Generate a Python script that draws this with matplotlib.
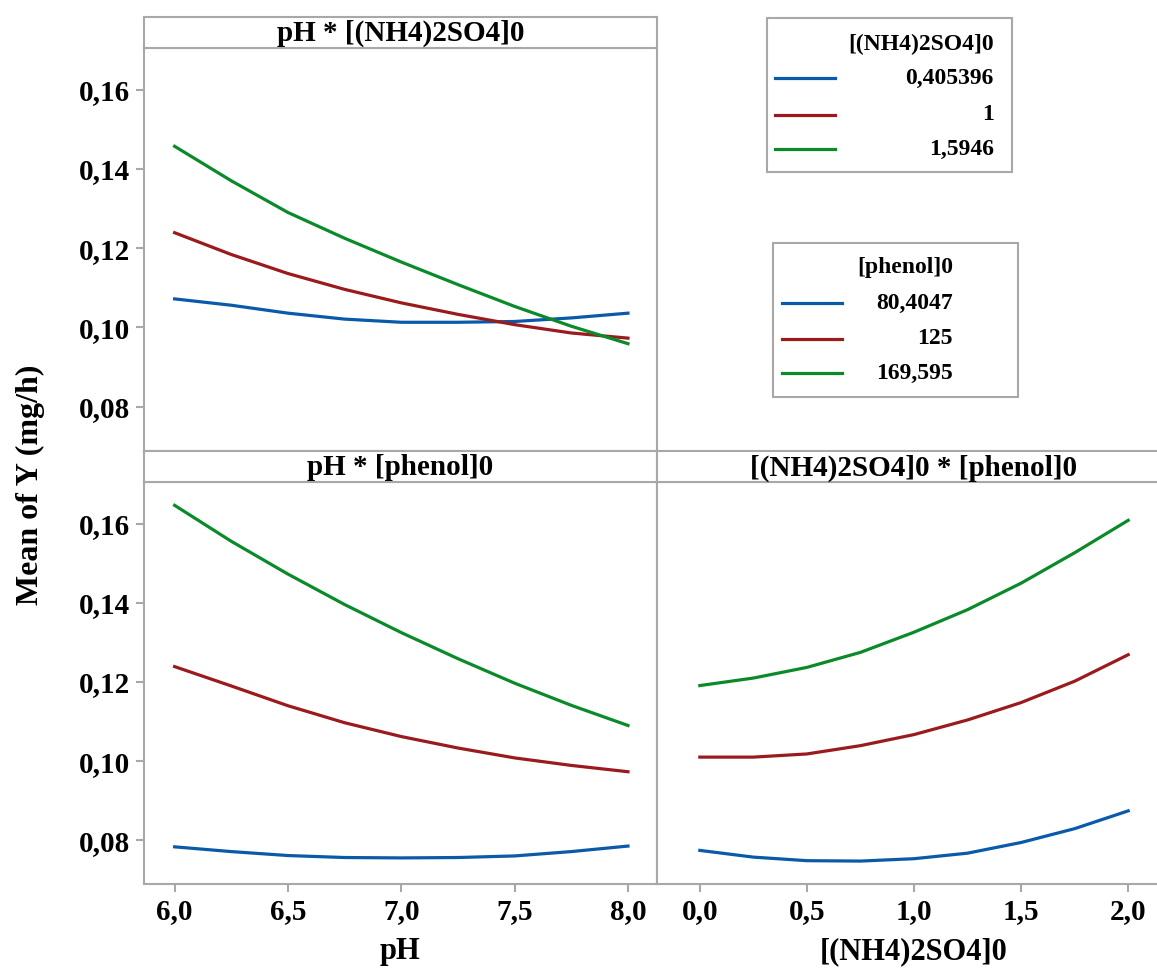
import numpy as np
import matplotlib
matplotlib.use("Agg")
import matplotlib.pyplot as plt
from matplotlib.patches import Rectangle
from matplotlib.lines import Line2D

plt.rcParams['font.family'] = ['Liberation Serif', 'DejaVu Serif']
plt.rcParams['font.weight'] = 'bold'

# x grids of the three interaction panels
ph = [6.0, 6.25, 6.5, 6.75, 7.0, 7.25, 7.5, 7.75, 8.0]
nh4 = [0.0, 0.25, 0.5, 0.75, 1.0, 1.25, 1.5, 1.75, 2.0]

# pH * [(NH4)2SO4]0  (levels 0,405396 / 1 / 1,5946)
ph_nh4_low = [0.1072, 0.1056, 0.1036, 0.1021, 0.1013, 0.1013, 0.1015, 0.1024, 0.1036]
ph_nh4_mid = [0.1239, 0.1184, 0.1136, 0.1096, 0.1062, 0.1033, 0.1007, 0.0986, 0.0973]
ph_nh4_high = [0.1457, 0.1370, 0.1290, 0.1225, 0.1165, 0.1108, 0.1053, 0.1003, 0.0959]

# pH * [phenol]0  (levels 80,4047 / 125 / 169,595)
ph_phe_low = [0.0783, 0.0771, 0.0761, 0.0756, 0.0755, 0.0756, 0.0760, 0.0771, 0.0785]
ph_phe_mid = [0.1239, 0.1190, 0.1140, 0.1097, 0.1062, 0.1033, 0.1008, 0.0989, 0.0973]
ph_phe_high = [0.1647, 0.1556, 0.1473, 0.1396, 0.1325, 0.1259, 0.1197, 0.1141, 0.1090]

# [(NH4)2SO4]0 * [phenol]0
nh4_phe_low = [0.0774, 0.0757, 0.0748, 0.0747, 0.0753, 0.0767, 0.0794, 0.0829, 0.0874]
nh4_phe_mid = [0.1010, 0.1010, 0.1018, 0.1039, 0.1067, 0.1104, 0.1148, 0.1202, 0.1269]
nh4_phe_high = [0.1191, 0.1210, 0.1237, 0.1275, 0.1326, 0.1383, 0.1450, 0.1527, 0.1609]

nh4_levels = ['0,405396', '1', '1,5946']
phenol_levels = ['80,4047', '125', '169,595']
colors = ['#0a5aaa', '#9a1a1e', '#0b8a2a']

W, H = 1157, 968
fig = plt.figure(figsize=(W / 100, H / 100), dpi=100)
frame_col = '#a8a8a8'
fs = 21


def px_axes(x0, y0, x1, y1):
    return fig.add_axes([x0 / W, 1 - y1 / H, (x1 - x0) / W, (y1 - y0) / H])


def style(ax):
    for s in ax.spines.values():
        s.set_color(frame_col)
        s.set_linewidth(1.5)
    ax.tick_params(color=frame_col, length=6, width=1.5, labelsize=fs, pad=4)


def strip(x0, y0, x1, y1, title):
    sa = px_axes(x0, y0, x1, y1)
    sa.set_xticks([])
    sa.set_yticks([])
    for s in sa.spines.values():
        s.set_color(frame_col)
        s.set_linewidth(1.5)
    sa.text(0.5, 0.45, title, ha='center', va='center', fontsize=fs,
            fontweight='bold', transform=sa.transAxes)


comma = matplotlib.ticker.FuncFormatter(lambda v, p: ('%.2f' % v).replace('.', ','))
comma1 = matplotlib.ticker.FuncFormatter(lambda v, p: ('%.1f' % v).replace('.', ','))
ylim = (0.0689, 0.1706)
yt = [0.08, 0.10, 0.12, 0.14, 0.16]

# top-left
ax1 = px_axes(144, 47.6, 657, 450.7)
for y, c in zip([ph_nh4_low, ph_nh4_mid, ph_nh4_high], colors):
    ax1.plot(ph, y, color=c, lw=2.3)
ax1.set_xlim(5.865, 8.128)
ax1.set_ylim(*ylim)
ax1.set_yticks(yt)
ax1.yaxis.set_major_formatter(comma)
ax1.set_xticks([])
style(ax1)
strip(144, 17, 657, 47.6, 'pH * [(NH4)2SO4]0')

# bottom-left
ax2 = px_axes(144, 482, 657, 884)
for y, c in zip([ph_phe_low, ph_phe_mid, ph_phe_high], colors):
    ax2.plot(ph, y, color=c, lw=2.3)
ax2.set_xlim(5.865, 8.128)
ax2.set_ylim(*ylim)
ax2.set_yticks(yt)
ax2.yaxis.set_major_formatter(comma)
ax2.set_xticks([6.0, 6.5, 7.0, 7.5, 8.0])
ax2.xaxis.set_major_formatter(comma1)
style(ax2)
ax2.set_xlabel('pH', fontsize=fs + 1, fontweight='bold', labelpad=9)
strip(144, 450.7, 657, 482, 'pH * [phenol]0')

# bottom-right
ax3 = px_axes(657, 482, 1171, 884)
for y, c in zip([nh4_phe_low, nh4_phe_mid, nh4_phe_high], colors):
    ax3.plot(nh4, y, color=c, lw=2.3)
ax3.set_xlim(-0.2, 2.2)
ax3.set_ylim(*ylim)
ax3.set_yticks([])
ax3.set_xticks([0.0, 0.5, 1.0, 1.5, 2.0])
ax3.xaxis.set_major_formatter(comma1)
style(ax3)
ax3.set_xlabel('[(NH4)2SO4]0', fontsize=fs + 1, fontweight='bold', labelpad=9)
strip(657, 450.7, 1171, 482, '[(NH4)2SO4]0 * [phenol]0')

fig.text(30 / W, 1 - 485 / H, 'Mean of Y (mg/h)', rotation=90, ha='center', va='center',
         fontsize=fs + 2, fontweight='bold')

# legends drawn on an overlay in pixel coordinates
ov = fig.add_axes([0, 0, 1, 1])
ov.set_xlim(0, W)
ov.set_ylim(H, 0)
ov.axis('off')


def legend_box(x0, y0, x1, y1, title, labels, line_x0, line_x1, text_x, title_y, ys):
    ov.add_patch(Rectangle((x0, y0), x1 - x0, y1 - y0, fill=False, ec=frame_col, lw=1.5))
    ov.text(text_x, title_y, title, ha='right', va='center', fontsize=17, fontweight='bold')
    for lab, c, yy in zip(labels, colors, ys):
        ov.add_line(Line2D([line_x0, line_x1], [yy, yy], color=c, lw=2.3))
        ov.text(text_x, yy, lab, ha='right', va='center', fontsize=17, fontweight='bold')


legend_box(767, 18, 1012, 172, '[(NH4)2SO4]0', nh4_levels, 775, 835, 994, 44, [78, 115, 149])
legend_box(773, 243, 1018, 397, '[phenol]0', phenol_levels, 782, 842, 953, 268, [303, 339, 373])

fig.savefig('out.png', dpi=100)
